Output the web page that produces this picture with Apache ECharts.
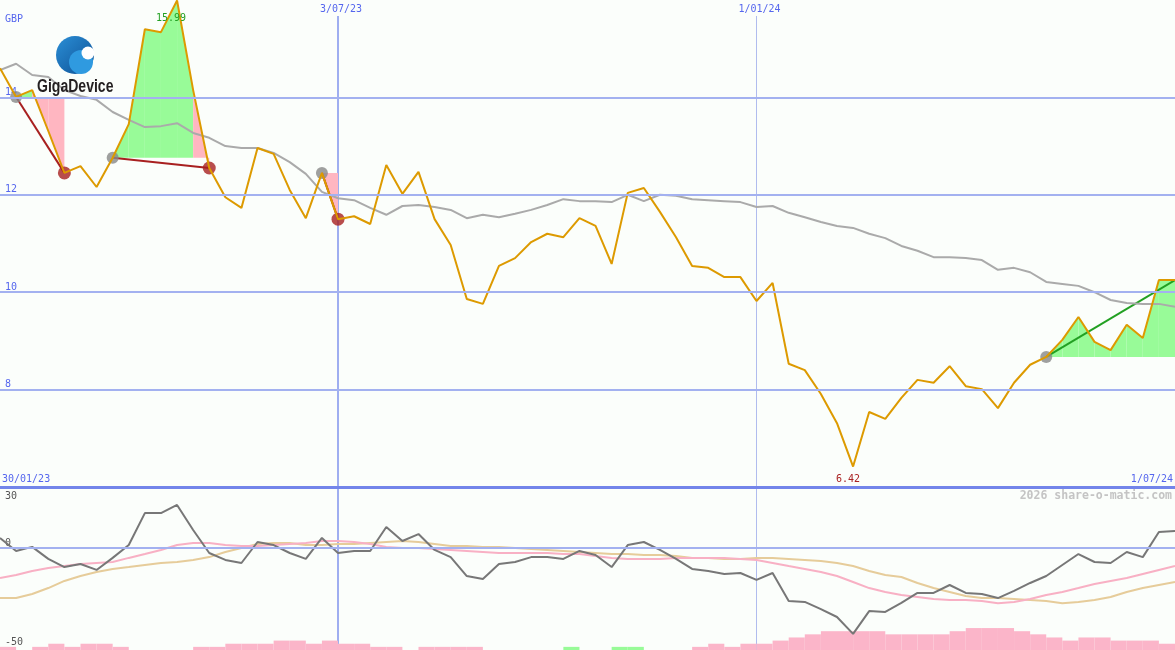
<!DOCTYPE html>
<html><head><meta charset="utf-8">
<script src="https://cdn.jsdelivr.net/npm/echarts@6/dist/echarts.min.js"></script>
<style>html,body{margin:0;padding:0;background:#fbfefb;}#c{width:1175px;height:650px;}</style>
</head><body><div id="c"></div>
<script>
// ---------- DATA ----------
// weekly categories (first point = week of 6/02/23)
const categories = [];
(function () {
  let t = Date.UTC(2023, 1, 6);
  for (let i = 0; i < 74; i++) {
    const d = new Date(t);
    categories.push(d.getUTCDate() + '/' + String(d.getUTCMonth() + 1).padStart(2, '0') + '/' + String(d.getUTCFullYear()).slice(2));
    t += 7 * 86400000;
  }
})();
const topTickLabels = ['3/07/23', '1/01/24'];
const startLabel = '30/01/23';
const endLabel = '1/07/24';
const currency = 'GBP';
const priceGridLevels = [8, 10, 12, 14];
const oscTickLabels = [30, 0, -50];

const priceVals = [14.60,14.01,14.15,13.31,12.45,12.59,12.16,12.76,13.45,15.40,
  15.34,15.99,14.15,12.55,11.95,11.73,12.96,12.84,12.10,11.52,
  12.45,11.50,11.56,11.40,12.61,12.02,12.47,11.50,10.97,9.86,
  9.76,10.54,10.70,11.03,11.20,11.13,11.52,11.36,10.58,12.04,
  12.14,11.65,11.13,10.54,10.50,10.31,10.31,9.82,10.19,8.53,
  8.40,7.91,7.31,6.42,7.54,7.40,7.83,8.20,8.14,8.48,
  8.07,8.01,7.62,8.14,8.51,8.67,9.02,9.49,8.98,8.81,
  9.33,9.06,10.25,10.25];
const maVals = [14.56,14.69,14.46,14.42,14.15,14.03,13.95,13.70,13.54,13.39,
  13.41,13.47,13.27,13.17,13.00,12.96,12.96,12.86,12.67,12.43,
  12.06,11.93,11.89,11.73,11.59,11.77,11.79,11.75,11.69,11.52,
  11.59,11.54,11.61,11.69,11.79,11.91,11.87,11.87,11.85,12.00,
  11.87,12.00,11.98,11.91,11.89,11.87,11.85,11.75,11.77,11.63,
  11.54,11.44,11.36,11.32,11.20,11.11,10.95,10.85,10.72,10.72,
  10.70,10.66,10.46,10.50,10.41,10.21,10.17,10.13,10.00,9.84,
  9.78,9.76,9.76,9.70];
const oscVals = [5.0,-1.4,0.6,-5.3,-9.3,-7.8,-10.7,-4.8,1.5,17.2,
  17.2,21.2,8.9,-2.4,-5.8,-7.3,3.0,1.5,-2.4,-5.3,
  5.0,-2.4,-1.4,-1.4,10.4,3.5,6.9,-0.9,-4.4,-13.7,
  -15.2,-7.8,-6.8,-4.4,-4.4,-5.3,-1.4,-3.4,-9.3,1.5,
  3.0,-0.9,-5.3,-10.2,-11.2,-12.7,-12.2,-15.6,-12.2,-26.0,
  -26.4,-29.9,-33.8,-42.1,-30.9,-31.3,-26.9,-22.0,-22.0,-18.1,
  -22.0,-22.5,-24.5,-21.0,-17.1,-13.7,-8.3,-2.9,-6.8,-7.3,
  -1.9,-4.4,7.9,8.4];
const oscFastVals = [-14.7,-13.2,-11.2,-9.8,-8.8,-7.8,-7.3,-6.8,-4.8,-2.9,
  -0.9,1.5,2.5,2.5,1.5,1.0,1.0,1.5,2.0,2.5,
  3.5,3.5,3.0,2.0,0.6,0.1,0.1,-0.4,-0.9,-1.4,
  -1.9,-2.4,-2.4,-2.4,-2.4,-2.9,-2.9,-3.9,-4.8,-5.3,
  -5.3,-5.3,-4.8,-4.8,-4.8,-4.8,-5.3,-5.8,-7.3,-8.8,
  -10.2,-11.7,-13.7,-16.6,-19.6,-21.5,-23.0,-24.0,-25.0,-25.5,
  -25.5,-26.0,-27.0,-26.4,-25.0,-23.0,-21.5,-19.6,-17.6,-16.1,
  -14.7,-12.7,-10.7,-8.8];
const oscSlowVals = [-24.5,-24.5,-22.5,-19.6,-16.1,-13.7,-11.7,-10.2,-9.3,-8.3,
  -7.3,-6.8,-5.8,-4.4,-1.9,0.1,2.0,2.5,2.5,1.5,
  1.5,2.0,2.0,2.5,3.0,3.5,3.0,2.0,1.0,1.0,
  0.6,0.6,0.1,-0.4,-0.9,-1.4,-1.9,-2.4,-2.9,-2.9,
  -3.4,-3.4,-3.9,-4.8,-4.8,-5.3,-5.3,-4.8,-4.8,-5.3,
  -5.8,-6.3,-7.3,-8.8,-11.2,-13.2,-14.2,-17.1,-19.6,-21.5,
  -23.5,-24.5,-24.5,-25.0,-25.5,-26.0,-27.0,-26.4,-25.5,-24.0,
  -21.5,-19.6,-18.1,-16.6];
// histogram per weekly interval (negative = pink, positive = green)
const histVals = [-1,0,-1,-2,-1,-2,-2,-1,0,0,
  0,0,-1,-1,-2,-2,-2,-3,-3,-2,
  -3,-2,-2,-1,-1,0,-1,-1,-1,-1,
  0,0,0,0,0,1,0,0,1,1,
  0,0,0,-1,-2,-1,-2,-2,-3,-4,
  -5,-6,-6,-6,-6,-5,-5,-5,-5,-6,
  -7,-7,-7,-6,-5,-4,-3,-4,-4,-3,
  -3,-3,-2];
// trades: entry week index, exit week index (null = still open)
const tradeEntries = [1, 7, 20, 65];
const tradeExits = [4, 13, 21, null];
const watermark = '2026 share-o-matic.com';
const logoText = 'GigaDevice';

// ---------- DERIVED ----------
const lastIdx = priceVals.length - 1;
const fillData = [], tradeLineData = [], entryDots = [], exitDots = [];
tradeEntries.forEach((e, k) => {
  const x = tradeExits[k];
  const end = x === null ? lastIdx : x;
  const ep = priceVals[e];
  for (let i = e; i < end; i++) {
    fillData.push([i, priceVals[i], priceVals[i + 1], ep, priceVals[i + 1] >= ep ? 1 : -1]);
  }
  tradeLineData.push([e, ep, end, priceVals[end], x === null ? 1 : 0]);
  entryDots.push([e, ep]);
  if (x !== null) exitDots.push([x, priceVals[x]]);
});

const FONT = 'DejaVu Sans Mono';
const BLUE_TXT = '#5566ee';
const GRID_BLUE = '#a3b1f0';
const oscAxisBase = {type: 'value', gridIndex: 1, position: 'left', min: -50, max: 30, interval: 10,
  axisLine: {show: false}, axisTick: {show: false}, splitLine: {show: false}};
const oscLabelBase = {inside: true, margin: 5, color: '#555', fontFamily: FONT, fontSize: 10,
  showMinLabel: true, showMaxLabel: true};

const chart = echarts.init(document.getElementById('c'), null, {renderer: 'canvas'});
const option = {
  animation: false,
  backgroundColor: '#fbfefb',
  grid: [
    {left: 0, right: 0, top: 0, height: 487},
    {left: 0, right: 0, top: 487, height: 163}
  ],
  xAxis: [
    {type: 'category', gridIndex: 0, data: categories, boundaryGap: false,
     axisLine: {show: true, lineStyle: {color: '#7385ea', width: 3}}, axisTick: {show: false},
     axisLabel: {show: false}, splitLine: {show: false}},
    {type: 'category', gridIndex: 1, data: categories, boundaryGap: false,
     axisLine: {show: false}, axisTick: {show: false}, axisLabel: {show: false}, splitLine: {show: false}}
  ],
  yAxis: [
    {type: 'value', gridIndex: 0, min: 6, max: 16, interval: 2,
     axisLine: {show: false}, axisTick: {show: false}, splitLine: {show: false},
     axisLabel: {inside: true, margin: 5, verticalAlign: 'bottom', color: BLUE_TXT, fontFamily: FONT, fontSize: 10,
       formatter: v => priceGridLevels.includes(v) ? String(v) : ''}},
    Object.assign({}, oscAxisBase, {axisLabel: Object.assign({}, oscLabelBase, {verticalAlign: 'bottom',
       formatter: v => v === oscTickLabels[1] ? String(v) : ''})}),
    Object.assign({}, oscAxisBase, {axisLabel: Object.assign({}, oscLabelBase, {verticalAlign: 'top', padding: [4, 0, 0, 0],
       formatter: v => v === oscTickLabels[0] ? String(v) : ''})}),
    {type: 'value', gridIndex: 1, min: 0, max: 52, show: false},
    Object.assign({}, oscAxisBase, {axisLabel: Object.assign({}, oscLabelBase, {verticalAlign: 'bottom', padding: [0, 0, 3, 0],
       formatter: v => v === oscTickLabels[2] ? String(v) : ''})})
  ],
  series: [
    {type: 'custom', name: 'trade-fill', xAxisIndex: 0, yAxisIndex: 0, data: fillData, silent: true,
     renderItem: function (params, api) {
       const i = fillData[params.dataIndex][0];
       const a = api.coord([i, api.value(1)]);
       const b = api.coord([i + 1, api.value(2)]);
       const c = api.coord([i + 1, api.value(3)]);
       const d = api.coord([i, api.value(3)]);
       return {type: 'polygon', shape: {points: [a, b, c, d]},
               style: {fill: api.value(4) > 0 ? '#98fb98' : '#ffb6c1'}};
     }},
    {type: 'line', name: 'avg', xAxisIndex: 0, yAxisIndex: 0, data: maVals, symbol: 'none', silent: true,
     lineStyle: {color: '#aaaaaa', width: 2},
     markLine: {silent: true, symbol: ['none', 'none'], label: {show: false},
       lineStyle: {color: GRID_BLUE, width: 2, type: 'solid'},
       data: priceGridLevels.map(v => ({yAxis: v}))}},
    {type: 'custom', name: 'trade-line', xAxisIndex: 0, yAxisIndex: 0, data: tradeLineData, silent: true,
     renderItem: function (params, api) {
       const t = tradeLineData[params.dataIndex];
       const p0 = api.coord([t[0], t[1]]);
       const p1 = api.coord([t[2], t[3]]);
       return {type: 'line', shape: {x1: p0[0], y1: p0[1], x2: p1[0], y2: p1[1]},
               style: {stroke: t[4] ? '#22a022' : '#a82020', lineWidth: 2}};
     }},
    {type: 'line', name: 'price', xAxisIndex: 0, yAxisIndex: 0, data: priceVals, symbol: 'none', silent: true,
     lineStyle: {color: '#dd9a00', width: 2},
     markPoint: {symbol: 'circle', symbolSize: 0, silent: true,
       label: {show: true, fontFamily: FONT, fontSize: 10, formatter: p => Number(p.value).toFixed(2)},
       data: [
         {type: 'max', label: {color: '#22a022', offset: [-6, 18]}},
         {type: 'min', label: {color: '#aa2222', offset: [-5, 13]}}
       ]}},
    {type: 'scatter', name: 'entry', xAxisIndex: 0, yAxisIndex: 0, data: entryDots, symbolSize: 12, silent: true,
     itemStyle: {color: '#888888'}},
    {type: 'scatter', name: 'exit', xAxisIndex: 0, yAxisIndex: 0, data: exitDots, symbolSize: 13, silent: true,
     itemStyle: {color: '#a82020'}},
    {type: 'custom', name: 'hist', xAxisIndex: 1, yAxisIndex: 3, silent: true,
     data: histVals.map((v, i) => [i, Math.abs(v)]),
     renderItem: function (params, api) {
       const i = params.dataIndex;
       const v = histVals[i];
       const h = Math.abs(v);
       if (!h) return null;
       const p0 = api.coord([i, 0]);
       const p1 = api.coord([i + 1, h]);
       return {type: 'rect', shape: {x: p0[0], y: p1[1], width: p1[0] - p0[0], height: p0[1] - p1[1]},
               style: {fill: v < 0 ? '#fbb5c9' : '#98fb98'}};
     }},
    {type: 'line', name: 'slow', xAxisIndex: 1, yAxisIndex: 1, data: oscSlowVals, symbol: 'none', silent: true,
     lineStyle: {color: '#e6cc9a', width: 2},
     markLine: {silent: true, symbol: ['none', 'none'], label: {show: false},
       lineStyle: {color: GRID_BLUE, width: 2, type: 'solid'}, data: [{yAxis: 0}]}},
    {type: 'line', name: 'fast', xAxisIndex: 1, yAxisIndex: 1, data: oscFastVals, symbol: 'none', silent: true,
     lineStyle: {color: '#f8b0c4', width: 2}},
    {type: 'line', name: 'osc', xAxisIndex: 1, yAxisIndex: 1, data: oscVals, symbol: 'none', silent: true,
     lineStyle: {color: '#777777', width: 2}}
  ]
};
chart.setOption(option);

// ---------- overlay text / reference lines positioned through the axes ----------
const gx = idx => chart.convertToPixel({xAxisIndex: 0}, idx);
const els = [];
topTickLabels.forEach((lab, k) => {
  const idx = categories.indexOf(lab);
  const x = gx(idx);
  els.push({type: 'line', z: 0, silent: true,
    shape: {x1: x, y1: 16, x2: x, y2: 650},
    style: {stroke: k === 0 ? '#9eaef0' : '#b0bcee', lineWidth: k === 0 ? 2 : 1}});
  els.push({type: 'text', z: 50, silent: true, x: x + 3, y: 9,
    style: {text: lab, fill: BLUE_TXT, font: '10px ' + FONT, align: 'center', verticalAlign: 'middle'}});
});
els.push({type: 'text', z: 50, silent: true, x: gx(0) + 2, y: 479,
  style: {text: startLabel, fill: BLUE_TXT, font: '10px ' + FONT, align: 'left', verticalAlign: 'middle'}});
els.push({type: 'text', z: 50, silent: true, x: gx(categories.indexOf(endLabel)) - 2, y: 479,
  style: {text: endLabel, fill: BLUE_TXT, font: '10px ' + FONT, align: 'right', verticalAlign: 'middle'}});
els.push({type: 'text', z: 50, silent: true, x: 5, y: 19,
  style: {text: currency, fill: BLUE_TXT, font: '10px ' + FONT, align: 'left', verticalAlign: 'middle'}});
els.push({type: 'text', z: 50, silent: true, x: 1172, y: 496,
  style: {text: watermark, fill: '#c4c4c4', font: 'bold 11.5px ' + FONT, align: 'right', verticalAlign: 'middle'}});
// logo
els.push({type: 'circle', z: 60, silent: true, shape: {cx: 75, cy: 55, r: 19},
  style: {fill: new echarts.graphic.LinearGradient(0, 0, 1, 1, [{offset: 0, color: '#2b8fd6'}, {offset: 1, color: '#0d4f94'}])}});
els.push({type: 'circle', z: 61, silent: true, shape: {cx: 81, cy: 62, r: 12},
  style: {fill: '#2f9ae0'}});
els.push({type: 'circle', z: 62, silent: true, shape: {cx: 88, cy: 53, r: 6.5},
  style: {fill: '#ffffff'}});
els.push({type: 'text', z: 60, silent: true, x: 37, y: 87, scaleX: 0.78,
  style: {text: logoText, fill: '#231f20', font: 'bold 18px "Liberation Sans", Arial, sans-serif', align: 'left', verticalAlign: 'middle'}});
chart.setOption({graphic: {elements: els}});
</script>
</body></html>
